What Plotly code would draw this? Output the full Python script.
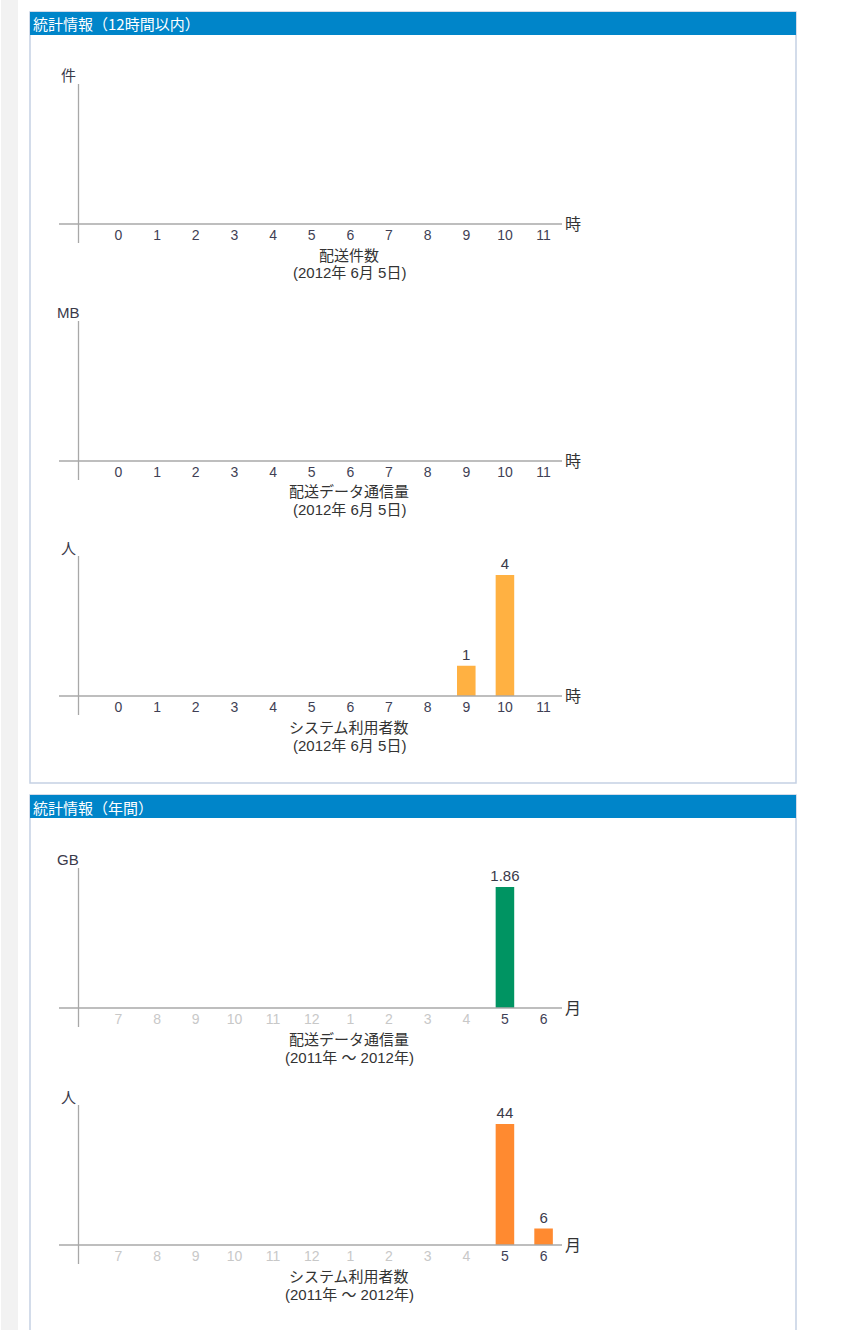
import plotly.graph_objects as go

W, H = 866, 1330

# ---- data ----
hours = ["0", "1", "2", "3", "4", "5", "6", "7", "8", "9", "10", "11"]
delivery_counts = [0, 0, 0, 0, 0, 0, 0, 0, 0, 0, 0, 0]
delivery_mb = [0, 0, 0, 0, 0, 0, 0, 0, 0, 0, 0, 0]
users_hourly = [0, 0, 0, 0, 0, 0, 0, 0, 0, 1, 4, 0]

months = ["7", "8", "9", "10", "11", "12", "1", "2", "3", "4", "5", "6"]
months_active = [False, False, False, False, False, False, False, False, False, False, True, True]
traffic_gb = [0, 0, 0, 0, 0, 0, 0, 0, 0, 0, 1.86, 0]
users_monthly = [0, 0, 0, 0, 0, 0, 0, 0, 0, 0, 44, 6]

header1 = "統計情報（12時間以内）"
header2 = "統計情報（年間）"

charts = [
    dict(cats=hours, vals=delivery_counts, unit="件", xunit="時", title="配送件数",
         sub="(2012年 6月 5日)", color="#FFB142", axis_px=224, active=None),
    dict(cats=hours, vals=delivery_mb, unit="MB", xunit="時", title="配送データ通信量",
         sub="(2012年 6月 5日)", color="#FFB142", axis_px=461, active=None),
    dict(cats=hours, vals=users_hourly, unit="人", xunit="時", title="システム利用者数",
         sub="(2012年 6月 5日)", color="#FFB142", axis_px=696, active=None),
    dict(cats=months, vals=traffic_gb, unit="GB", xunit="月", title="配送データ通信量",
         sub="(2011年 ～ 2012年)", color="#009462", axis_px=1008, active=months_active),
    dict(cats=months, vals=users_monthly, unit="人", xunit="月", title="システム利用者数",
         sub="(2011年 ～ 2012年)", color="#FF8A30", axis_px=1245, active=months_active),
]

FONT = "Liberation Sans, Arial, Noto Sans CJK JP, sans-serif"
CJK = "Noto Sans CJK JP, Liberation Sans, sans-serif"
TXT = "#333333"


def px(x):
    return x / W


def py(y):
    return 1 - y / H


fig = go.Figure()
shapes = []
annotations = []


def label(x, y, text, font, xanchor="center"):
    annotations.append(dict(x=px(x), y=py(y), xref="paper", yref="paper", text=text,
                            showarrow=False, xanchor=xanchor, yanchor="middle", font=font))


# page decorations
shapes.append(dict(type="rect", xref="paper", yref="paper", x0=px(1), x1=px(18),
                   y0=py(H), y1=py(0), fillcolor="#f2f2f2", line=dict(width=0), layer="below"))
for (top, bottom, text) in [(12, 783, header1), (795, 1340, header2)]:
    shapes.append(dict(type="rect", xref="paper", yref="paper", x0=px(30), x1=px(796),
                       y0=py(bottom), y1=py(top), fillcolor="white",
                       line=dict(color="#c5d1e3", width=1.5), layer="below"))
    shapes.append(dict(type="rect", xref="paper", yref="paper", x0=px(30), x1=px(796),
                       y0=py(top + 23), y1=py(top), fillcolor="#0085C9",
                       line=dict(width=0), layer="below"))
    label(31, top + 12, text, dict(family=CJK, size=15, color="white"), xanchor="left")

XL, XR = 60.5, 562.9  # x domain in px (range -1.5 .. 11.5)

for i, c in enumerate(charts, start=1):
    a = c["axis_px"]
    xa = "x" if i == 1 else f"x{i}"
    ya = "y" if i == 1 else f"y{i}"
    vmax = max(c["vals"]) if max(c["vals"]) > 0 else 1
    ymax = vmax * 140 / 121
    idx = list(range(len(c["cats"])))
    texts = [("" if v == 0 else f"{v:g}") for v in c["vals"]]
    fig.add_trace(go.Bar(x=idx, y=c["vals"], width=0.48,
                         marker=dict(color=c["color"], line=dict(width=0)),
                         text=texts, textposition="outside", cliponaxis=False,
                         constraintext="none",
                         textfont=dict(family=FONT, size=15, color="#3a3a4a"),
                         xaxis=xa, yaxis=ya, showlegend=False, hoverinfo="skip"))
    if c["active"] is None:
        ticktext = c["cats"]
    else:
        ticktext = [t if act else f'<span style="color:#c8c8c8">{t}</span>'
                    for t, act in zip(c["cats"], c["active"])]
    axkey = "xaxis" if i == 1 else f"xaxis{i}"
    aykey = "yaxis" if i == 1 else f"yaxis{i}"
    fig.update_layout({
        axkey: dict(domain=[px(XL), px(XR)], range=[-1.5, 11.5], tickvals=idx, ticktext=ticktext,
                    showgrid=False, zeroline=False, showline=False, ticks="",
                    tickfont=dict(family=FONT, size=14, color="#3f3f55"), anchor=ya,
                    fixedrange=True, ticklabelstandoff=1, automargin=False),
        aykey: dict(domain=[py(a), py(a - 140)], range=[0, ymax], visible=False,
                    anchor=xa, fixedrange=True),
    })
    # axis lines
    shapes.append(dict(type="line", xref="paper", yref="paper", x0=px(59), x1=px(562),
                       y0=py(a), y1=py(a), line=dict(color="#a8a8a8", width=1.3)))
    shapes.append(dict(type="line", xref="paper", yref="paper", x0=px(78.5), x1=px(78.5),
                       y0=py(a - 140), y1=py(a + 19), line=dict(color="#a8a8a8", width=1.3)))
    # labels
    label(68, a - 149, c["unit"],
          dict(family=CJK if c["unit"] in ("件", "人") else FONT, size=15, color="#3a3a4a"))
    label(563, a - 1, c["xunit"], dict(family=CJK, size=16, color="#333"), xanchor="left")
    label(349, a + 30, c["title"], dict(family=CJK, size=15, color=TXT))
    label(349, a + 49, c["sub"], dict(family=FONT, size=15, color=TXT))

fig.update_layout(width=W, height=H, margin=dict(l=0, r=0, t=0, b=0),
                  paper_bgcolor="white", plot_bgcolor="rgba(0,0,0,0)",
                  shapes=shapes, annotations=annotations,
                  font=dict(family=FONT, color=TXT))

fig.write_html("out.html", config={"displayModeBar": False},
               post_script="document.body.style.margin='0px';document.body.style.overflow='hidden';")
